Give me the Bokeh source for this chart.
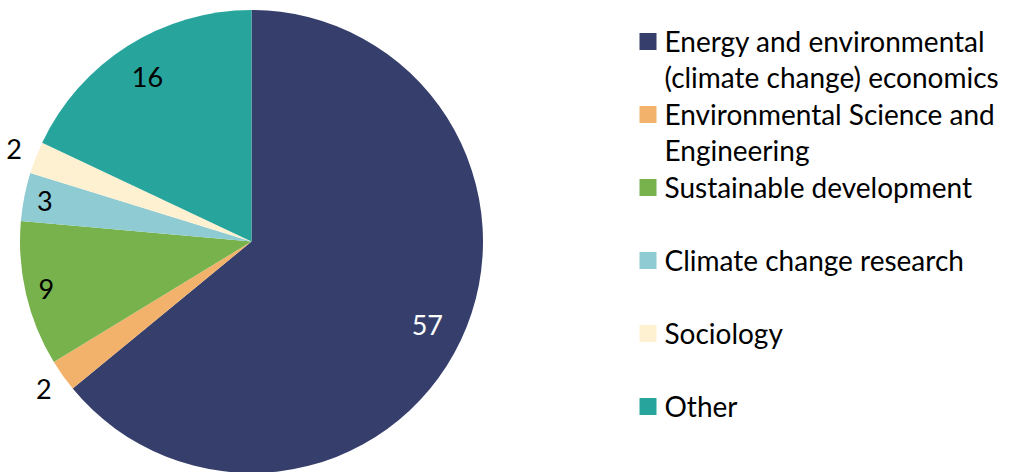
import math
from bokeh.plotting import figure
from bokeh.models import Range1d, ColumnDataSource
from bokeh.core.properties import value
from bokeh.embed import file_html
from bokeh.resources import INLINE

categories = [
    "Energy and environmental\n(climate change) economics",
    "Environmental Science and\nEngineering",
    "Sustainable development",
    "Climate change research",
    "Sociology",
    "Other",
]
counts = [57, 2, 9, 3, 2, 16]
colors = ["#363f6b", "#f3b26b", "#77b24d", "#8ecbd2", "#fef1d2", "#27a59c"]
label_colors = ["white", "black", "black", "black", "black", "black"]

W, H = 1011, 472
FONT = "Lato"

p = figure(width=W, height=H, output_backend="svg", toolbar_location=None,
           x_range=Range1d(0, W), y_range=Range1d(0, H),
           min_border=0, outline_line_color=None)
p.axis.visible = False
p.grid.visible = False
p.background_fill_color = "white"
p.border_fill_color = "white"

cx, cy, r = 251, H - 241, 231.5
total = sum(counts)
starts, ends, mids = [], [], []
acc = 0
for c in counts:
    a0 = math.pi / 2 - 2 * math.pi * acc / total
    acc += c
    a1 = math.pi / 2 - 2 * math.pi * acc / total
    starts.append(a0)
    ends.append(a1)
    mids.append((a0 + a1) / 2)

src = ColumnDataSource(dict(start=starts, end=ends, color=colors))
p.wedge(x=cx, y=cy, radius=r, start_angle="start", end_angle="end",
        direction="clock", fill_color="color", line_color=None, source=src)

# value labels
lx, ly = [], []
for c, m in zip(counts, mids):
    f = 0.84 if c >= 10 else (0.91 if c >= 3 else 1.1)
    lx.append(cx + f * r * math.cos(m))
    ly.append(cy + f * r * math.sin(m))
p.text(x=lx, y=ly, text=[str(c) for c in counts], text_color=label_colors,
       text_font=value(FONT), text_font_size="27px",
       text_align="center", text_baseline="middle")

# legend
sq_x, txt_x = 647.5, 664
item_top = 41
step = 73
line_h = 36
for i, (cat, col) in enumerate(zip(categories, colors)):
    yc = H - (item_top + i * step)
    p.rect(x=sq_x, y=yc, width=17, height=17, fill_color=col, line_color=None)
    for j, line in enumerate(cat.split("\n")):
        p.text(x=txt_x, y=yc - j * line_h + 1, text=[line], text_color="#000000",
               text_font=value(FONT), text_font_size="28px",
               text_align="left", text_baseline="middle")

open("out.html", "w").write(file_html(p, INLINE))
